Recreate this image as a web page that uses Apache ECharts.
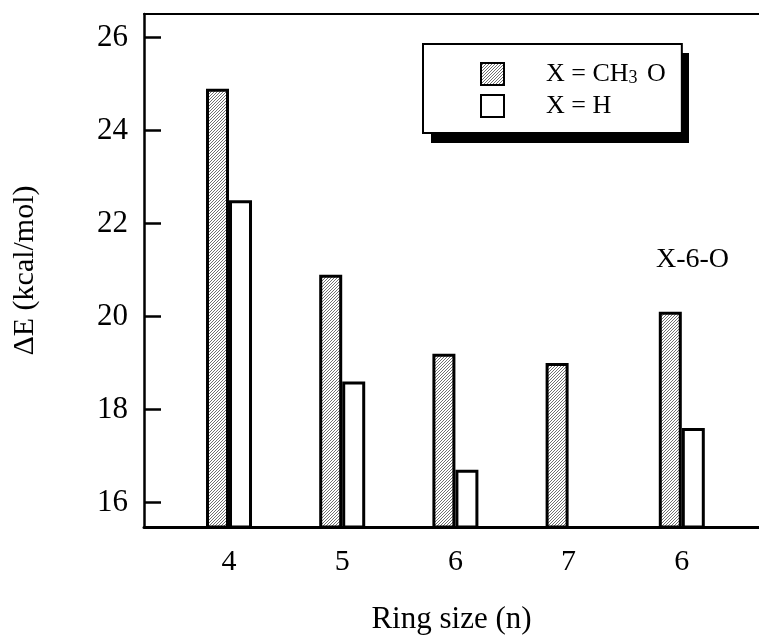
<!DOCTYPE html>
<html>
<head>
<meta charset="utf-8">
<script src="https://cdn.jsdelivr.net/npm/echarts@6/dist/echarts.min.js"></script>
<style>
  html, body { margin: 0; padding: 0; background: #fff; }
  #main { width: 759px; height: 640px; }
</style>
</head>
<body>
<div id="main"></div>
<script>
// ring size labels along the x axis (the last group is X-6-O)
const ringLabels = ['4', '5', '6', '7', '6'];
// ΔE in kcal/mol
const ch3oValues = [24.9, 20.9, 19.2, 19.0, 20.1];
const hValues = [22.5, 18.6, 16.7, null, 17.6];
const yTicks = [16, 18, 20, 22, 24, 26];
const seriesNames = ['X = CH3 O', 'X = H'];

const font = "'Liberation Serif', 'Times New Roman', Times, serif";

// fine diagonal hatch like the scanned figure
function makeHatch() {
  const c = document.createElement('canvas');
  c.width = 3; c.height = 3;
  const ctx = c.getContext('2d');
  ctx.fillStyle = '#ffffff';
  ctx.fillRect(0, 0, 3, 3);
  ctx.fillStyle = '#707070';
  ctx.fillRect(0, 2, 1, 1);
  ctx.fillRect(1, 1, 1, 1);
  ctx.fillRect(2, 0, 1, 1);
  return c;
}
const hatch = { image: makeHatch(), repeat: 'repeat' };

const positions = ringLabels.map((_, i) => i);
const toPairs = vals => vals.map((v, i) => [i, v]);

const chart = echarts.init(document.getElementById('main'));
const option = {
  animation: false,
  backgroundColor: '#fff',
  textStyle: { fontFamily: font, color: '#000' },
  grid: { left: 144, right: 0, top: 14, bottom: 107 },
  legend: {
    orient: 'vertical',
    left: 423,
    top: 44,
    z: 5,
    padding: [17, 16, 14, 57],
    icon: 'rect',
    itemWidth: 23,
    itemHeight: 22,
    itemGap: 6,
    backgroundColor: '#fff',
    borderColor: '#000',
    borderWidth: 2,
    borderRadius: 0,
    data: seriesNames,
    formatter: name => name === seriesNames[0] ? 'X = CH{sub|3} O' : name,
    textStyle: {
      fontFamily: font,
      fontSize: 26,
      lineHeight: 26,
      color: '#000',
      padding: [0, 0, 0, 37],
      rich: {
        sub: { fontFamily: font, fontSize: 18, lineHeight: 20, color: '#000', padding: [8, 3, 0, 0] }
      }
    }
  },
  xAxis: [
    {
      type: 'value',
      min: -0.751,
      max: 4.682,
      splitLine: { show: false },
      axisLine: { show: true, onZero: false, lineStyle: { color: '#000', width: 3 } },
      axisTick: { show: false },
      axisLabel: {
        customValues: positions,
        formatter: v => ringLabels[Math.round(v)],
        fontFamily: font,
        fontSize: 30,
        color: '#000',
        margin: 20
      },
      name: 'Ring size (n)',
      nameLocation: 'middle',
      nameGap: 77,
      nameTextStyle: { fontFamily: font, fontSize: 31, color: '#000' }
    },
    {
      type: 'value',
      position: 'top',
      min: -0.751,
      max: 4.682,
      splitLine: { show: false },
      axisLine: { show: true, onZero: false, lineStyle: { color: '#000', width: 2 } },
      axisTick: { show: false },
      axisLabel: { show: false }
    }
  ],
  yAxis: {
    type: 'value',
    min: 15.47,
    max: 26.51,
    splitLine: { show: false },
    axisLine: { show: true, onZero: false, lineStyle: { color: '#000', width: 2.5 } },
    axisTick: {
      show: true,
      inside: true,
      length: 17,
      customValues: yTicks,
      lineStyle: { color: '#000', width: 2.5 }
    },
    axisLabel: {
      customValues: yTicks,
      fontFamily: font,
      fontSize: 31,
      color: '#000',
      margin: 16
    },
    name: 'ΔE (kcal/mol)',
    nameLocation: 'middle',
    nameRotate: 90,
    nameGap: 104,
    nameTextStyle: { fontFamily: font, fontSize: 30, color: '#000' }
  },
  series: [
    {
      name: seriesNames[0],
      type: 'bar',
      barWidth: 23,
      barGap: '0%',
      data: toPairs(ch3oValues),
      itemStyle: { color: hatch, borderColor: '#000', borderWidth: 3 }
    },
    {
      name: seriesNames[1],
      type: 'bar',
      barWidth: 23,
      barGap: '0%',
      data: toPairs(hValues),
      itemStyle: { color: '#fff', borderColor: '#000', borderWidth: 3 }
    }
  ],
  graphic: [
    {
      // drop shadow behind the legend box
      type: 'rect',
      z: 1,
      shape: { x: 431, y: 53, width: 258, height: 90 },
      style: { fill: '#000' }
    },
    {
      type: 'text',
      left: 656,
      top: 246,
      style: { text: 'X-6-O', fontFamily: font, fontSize: 28, fill: '#000' }
    }
  ]
};
chart.setOption(option);
</script>
</body>
</html>
